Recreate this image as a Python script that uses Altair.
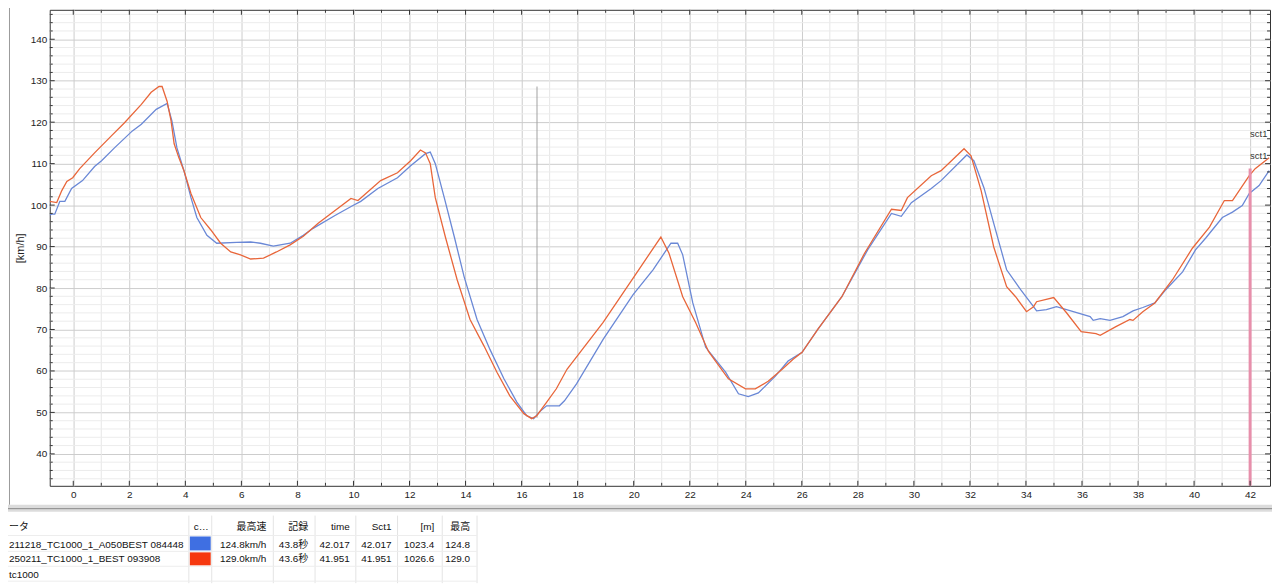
import altair as alt
import pandas as pd

# ---------------- data ----------------
blue_x = [-0.84, -0.77, -0.66, -0.48, -0.30, -0.06, 0.33, 0.76, 1.01, 1.47, 2.11, 2.43, 2.96, 3.35,
          3.52, 3.70, 3.95, 4.20, 4.41, 4.77, 5.12, 5.83, 6.33, 6.68, 7.14, 7.74, 8.21, 8.56, 9.34,
          9.98, 10.26, 10.87, 11.57, 12.04, 12.57, 12.74, 12.92, 13.24, 13.60, 13.95, 14.41, 14.87,
          15.37, 15.83, 16.18, 16.43, 16.65, 16.89, 17.35, 17.53, 17.96, 18.91, 19.98, 20.69, 21.33,
          21.57, 21.75, 22.11, 22.57, 23.28, 23.74, 24.09, 24.45, 25.05, 25.51, 26.01, 26.57, 27.43,
          28.35, 29.20, 29.55, 29.91, 30.62, 30.97, 31.89, 32.14, 32.50, 32.85, 33.31, 33.81, 34.27,
          34.38, 34.73, 35.09, 35.69, 36.29, 36.40, 36.65, 37.00, 37.46, 37.82, 38.17, 38.60, 38.99,
          39.59, 40.05, 40.41, 41.01, 41.37, 41.72, 41.97, 42.32, 42.68]
blue_y = [97.6, 97.8, 97.8, 100.9, 100.9, 104.0, 105.9, 109.3, 110.7, 113.8, 117.9, 119.5, 123.1, 124.5,
          120.3, 113.8, 108.3, 101.8, 97.0, 92.7, 90.8, 91.0, 91.1, 90.8, 90.1, 90.8, 92.7, 94.4, 97.5,
          99.9, 100.9, 104.0, 106.6, 109.5, 112.4, 112.8, 110.0, 101.8, 92.3, 82.7, 72.4, 65.2,
          58.1, 52.5, 49.2, 48.5, 50.2, 51.6, 51.6, 52.8, 56.9, 67.6, 78.4, 84.4, 90.8,
          90.8, 88.0, 76.4, 65.7, 59.7, 54.5, 53.8, 54.7, 58.7, 62.4, 64.5, 70.0, 77.9,
          89.2, 98.0, 97.3, 100.6, 104.0, 105.9, 112.1, 110.7, 104.2, 95.6, 84.4, 79.6, 75.5,
          74.5, 74.8, 75.5, 74.3, 73.1, 72.2, 72.6, 72.2, 73.1, 74.5, 75.3, 76.4, 79.6,
          83.9, 89.2, 92.0, 97.0, 98.3, 99.9, 102.8, 104.7, 108.3]

red_x = [-0.84, -0.59, -0.41, -0.23, -0.02, 0.23, 0.76, 1.36, 1.82, 2.43, 2.78, 3.06, 3.17, 3.35, 3.49,
         3.60, 3.77, 3.95, 4.20, 4.55, 4.91, 5.26, 5.62, 5.97, 6.33, 6.79, 7.25, 7.74, 8.21, 8.74,
         9.91, 10.16, 10.97, 11.57, 12.04, 12.39, 12.57, 12.74, 12.92, 13.28, 13.70, 14.16, 14.66,
         15.12, 15.58, 16.08, 16.36, 16.54, 16.89, 17.24, 17.62, 18.91, 19.98, 20.97, 21.26, 21.75,
         22.21, 22.67, 23.38, 23.99, 24.34, 24.80, 25.30, 25.69, 26.01, 26.57, 27.43, 28.24, 29.20,
         29.55, 29.77, 30.62, 30.97, 31.79, 32.04, 32.40, 32.85, 33.31, 33.63, 34.02, 34.27, 34.38,
         34.99, 35.44, 35.97, 36.50, 36.65, 37.21, 37.71, 37.82, 38.17, 38.60, 39.23, 39.94, 40.55,
         41.08, 41.37, 41.97, 42.18, 42.68]
red_y = [100.9, 100.6, 103.5, 105.7, 106.6, 108.8, 112.6, 116.7, 119.8, 124.3, 127.2, 128.6, 128.6, 125.0, 120.3,
         114.8, 111.4, 108.3, 102.8, 97.0, 94.0, 90.8, 88.7, 88.0, 87.0, 87.2, 88.7, 90.4, 92.5, 95.6,
         101.6, 101.1, 105.9, 107.8, 110.7, 113.3, 112.6, 110.0, 101.8, 92.3, 82.0, 72.4, 66.0,
         59.7, 54.0, 49.7, 48.5, 49.2, 52.4, 55.7, 60.4, 71.7, 82.4, 92.3, 88.4, 77.9,
         71.7, 64.7, 58.1, 55.7, 55.7, 57.5, 60.4, 62.8, 64.5, 70.0, 77.9, 88.4, 99.0,
         98.7, 101.8, 107.1, 108.3, 113.6, 111.9, 103.5, 89.9, 80.3, 77.9, 74.3, 75.5, 76.7,
         77.7, 74.1, 69.5, 69.0, 68.6, 70.7, 72.4, 72.2, 74.3, 76.4, 82.0, 89.6, 94.7,
         101.1, 101.1, 107.1, 108.8, 111.4]

cursor_x = [16.55]
cursor_y = [48.7]
cursor_y2 = [128.6]
marker_x = [42.0]
marker_top = [108.8]
sct_labels = ["sct1", "sct1"]
sct_y = [117.1, 111.9]

x_ticks = list(range(0, 43, 2))
x_minor = list(range(1, 42, 2))
y_ticks = list(range(40, 141, 10))
y_minor = [v for v in range(34, 147, 2) if v % 10 != 0]

# table contents
table_header = ["ータ", "c…", "最高速", "記録", "time", "Sct1", "[m]", "最高"]
run_names = ["211218_TC1000_1_A050BEST 084448", "250211_TC1000_1_BEST 093908", "tc1000"]
max_speed = ["124.8km/h", "129.0km/h"]
record = ["43.8秒", "43.6秒"]
lap_time = ["42.017", "41.951"]
sct1 = ["42.017", "41.951"]
dist_m = ["1023.4", "1026.6"]
top_speed = ["124.8", "129.0"]

# ---------------- layout / style ----------------
W, H = 1228, 479
OX, OY = 50, 8                      # page position of plot origin
X_DOMAIN = [-0.84, 42.71]
Y_DOMAIN = [32.3, 147.1]
FONT = "Liberation Sans, Noto Sans CJK JP"
BLUE, RED = "#6A88D6", "#E8663A"
SW_BLUE, SW_RED = "#3F6FE2", "#F6380F"
COL_RIGHT = [268, 310, 352, 394, 437, 473]   # page px, right edges of numeric columns
ROW_Y = [528.5, 546.5, 561, 576.5]           # page px, row centres
NAME_X, COLOR_COL_X = 9, 195

xscale = alt.Scale(domain=X_DOMAIN, nice=False, zero=False)
yscale = alt.Scale(domain=Y_DOMAIN, nice=False, zero=False)
xaxis = alt.Axis(values=x_ticks, title=None, grid=True, gridColor="#cdcdcd", ticks=False, domain=False,
                 labelFontSize=10, labelColor="#222", labelPadding=4, labelFont=FONT, labelFlush=False)
yaxis = alt.Axis(values=y_ticks, title="[km/h]", titleFontSize=11, titleFontWeight="normal",
                 titleColor="#222", titleFont=FONT, titlePadding=5, grid=True, gridColor="#cdcdcd",
                 ticks=False, domain=False, labelFontSize=10, labelColor="#222", labelPadding=3,
                 labelFont=FONT)


def X(f):
    return alt.X(f"{f}:Q", scale=xscale, axis=xaxis)


def Y(f):
    return alt.Y(f"{f}:Q", scale=yscale, axis=yaxis)


blue_df = pd.DataFrame({"dist": blue_x, "speed": blue_y})
red_df = pd.DataFrame({"dist": red_x, "speed": red_y})

minor_vx = alt.Chart(pd.DataFrame({"v": x_minor})).mark_rule(color="#e6e6e6").encode(x=X("v"))
minor_hy = alt.Chart(pd.DataFrame({"v": y_minor})).mark_rule(color="#ececec").encode(y=Y("v"))

blue_line = alt.Chart(blue_df).mark_line(color=BLUE, strokeWidth=1.3, clip=True).encode(
    x=X("dist"), y=Y("speed"), order="dist:Q")
red_line = alt.Chart(red_df).mark_line(color=RED, strokeWidth=1.3, clip=True).encode(
    x=X("dist"), y=Y("speed"), order="dist:Q")

cursor = alt.Chart(pd.DataFrame({"x": cursor_x, "y": cursor_y, "y2": cursor_y2})).mark_rule(
    color="#a0a0a0", strokeWidth=1).encode(x=X("x"), y=Y("y"), y2="y2:Q")
marker = alt.Chart(pd.DataFrame({"x": marker_x, "y": marker_top})).mark_rule(
    color="#E78FAB", strokeWidth=3).encode(x=X("x"), y=Y("y"), y2=alt.value(H))
sct = alt.Chart(pd.DataFrame({"x": marker_x * 2, "y": sct_y, "t": sct_labels})).mark_text(
    align="left", baseline="middle", fontSize=9.5, color="#333", font=FONT, clip=True).encode(
    x=X("x"), y=Y("y"), text="t:N")


def xtick(vals, length, bottom=True):
    y0, y1 = (H, H - length) if bottom else (0, length)
    return alt.Chart(pd.DataFrame({"v": vals})).mark_rule(color="#333").encode(
        x=X("v"), y=alt.value(y0), y2=alt.value(y1))


def ytick(vals, length, left=True):
    x0, x1 = (0, length) if left else (W, W - length)
    return alt.Chart(pd.DataFrame({"v": vals})).mark_rule(color="#333").encode(
        y=Y("v"), x=alt.value(x0), x2=alt.value(x1))


ticks = [xtick(x_ticks, 5), xtick(x_minor, 3), xtick(x_ticks, 5, False), xtick(x_minor, 3, False),
         ytick(y_ticks, 5), ytick(y_minor, 3), ytick(y_ticks, 5, False), ytick(y_minor, 3, False)]

plot = alt.layer(minor_vx, minor_hy, cursor, blue_line, red_line, marker, sct, *ticks)

# ---------------- table below the plot ----------------
left_rows = [(table_header[0], NAME_X, ROW_Y[0]), (table_header[1], COLOR_COL_X, ROW_Y[0])]
for i, n in enumerate(run_names):
    left_rows.append((n, NAME_X, ROW_Y[i + 1]))
right_rows = []
for j, h in enumerate(table_header[2:]):
    right_rows.append((h, COL_RIGHT[j], ROW_Y[0]))
for i in range(2):
    for j, col in enumerate([max_speed, record, lap_time, sct1, dist_m, top_speed]):
        right_rows.append((col[i], COL_RIGHT[j], ROW_Y[i + 1]))


def tdf(rows):
    return pd.DataFrame({"t": [r[0] for r in rows], "px": [r[1] - OX for r in rows],
                         "py": [r[2] - OY for r in rows]})


def TX(f):
    return alt.X(f"{f}:Q", scale=None, axis=None)


def TY(f):
    return alt.Y(f"{f}:Q", scale=None, axis=None)


txt_left = alt.Chart(tdf(left_rows)).mark_text(align="left", baseline="middle", fontSize=10,
                                                font=FONT, color="#111").encode(
    x=TX("px"), y=TY("py"), text="t:N")
txt_right = alt.Chart(tdf(right_rows)).mark_text(align="right", baseline="middle", fontSize=10,
                                                  font=FONT, color="#111").encode(
    x=TX("px"), y=TY("py"), text="t:N")

sw_df = pd.DataFrame({"series": run_names[:2],
                      "x": [191 - OX] * 2, "x2": [212 - OX] * 2,
                      "y": [538 - OY, 554 - OY], "y2": [552 - OY, 567 - OY]})
swatches = alt.Chart(sw_df).mark_rect().encode(
    x=TX("x"), x2="x2:Q", y=TY("y"), y2="y2:Q",
    color=alt.Color("series:N", scale=alt.Scale(domain=run_names[:2], range=[SW_BLUE, SW_RED]),
                    legend=None))

vlines = [190, 213, 275, 317, 358, 400, 445, 480]
hlines = [537, 553, 568, 583]
tv = alt.Chart(pd.DataFrame({"x": [v - OX for v in vlines]})).mark_rule(color="#e4e4e4").encode(
    x=TX("x"), y=alt.value(517 - OY), y2=alt.value(585 - OY))
th = alt.Chart(pd.DataFrame({"y": [v - OY for v in hlines]})).mark_rule(color="#ededed").encode(
    y=TY("y"), x=alt.value(8 - OX), x2=alt.value(480 - OX))
sep = alt.Chart(pd.DataFrame({"a": [0]})).mark_rect(color="#dcdcdc").encode(
    x=alt.value(8 - OX), x2=alt.value(1280 - OX), y=alt.value(506 - OY), y2=alt.value(513 - OY))
sep_line = alt.Chart(pd.DataFrame({"a": [0]})).mark_rule(color="#8a8a8a").encode(
    x=alt.value(8 - OX), x2=alt.value(1280 - OX), y=alt.value(510 - OY))
left_frame = alt.Chart(pd.DataFrame({"a": [0]})).mark_rule(color="#9a9a9a").encode(
    x=alt.value(9.5 - OX), y=alt.value(0 - OY), y2=alt.value(506 - OY))

table = alt.layer(sep, sep_line, left_frame, tv, th, swatches, txt_left, txt_right)

chart = alt.layer(plot, table).resolve_scale(x="independent", y="independent", color="independent").properties(
    width=W, height=H,
    padding={"left": 42, "top": 0, "right": 2, "bottom": 98},
    autosize=alt.AutoSizeParams(type="none"),
    background="white",
).configure_view(stroke="#333", strokeWidth=1)

chart.save("out.html", embed_options={"renderer": "svg", "actions": False})
